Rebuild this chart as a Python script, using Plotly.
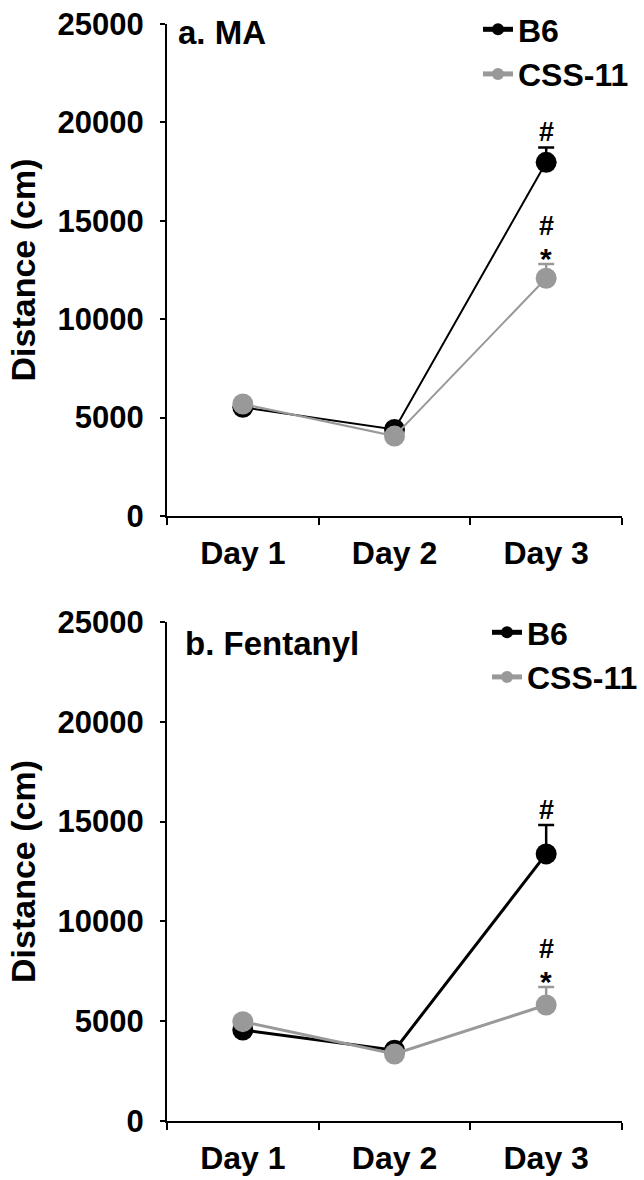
import plotly.graph_objects as go

days = ["Day 1", "Day 2", "Day 3"]
series_names = ["B6", "CSS-11"]

ma_b6 = [5520, 4400, 17970]
ma_b6_err = [200, 150, 760]
ma_css = [5690, 4060, 12080]
ma_css_err = [200, 150, 720]

fen_b6 = [4560, 3550, 13380]
fen_b6_err = [250, 200, 1450]
fen_css = [4975, 3355, 5810]
fen_css_err = [250, 150, 900]

y_ticks = [0, 5000, 10000, 15000, 20000, 25000]
panel_titles = ["a. MA", "b. Fentanyl"]
sig_b6 = ["#", "#"]
sig_css = ["#", "#"]
sig_css_star = ["*", "*"]

BLACK = "#000000"
GRAY = "#999999"
FONT = "Liberation Sans, Arial, sans-serif"

W, H = 644, 1180
x_dom = [167 / W, 622 / W]
top_dom = [1 - 516 / H, 1 - 24 / H]
bot_dom = [1 - 1121 / H, 1 - 622 / H]

fig = go.Figure()

panels = [
    (ma_b6, ma_b6_err, ma_css, ma_css_err, "x", "y", "legend", 2),
    (fen_b6, fen_b6_err, fen_css, fen_css_err, "x2", "y2", "legend2", 3),
]

for (b6, b6e, css, csse, xa, ya, lg, lw) in panels:
    for name, vals, errs, col in [(series_names[0], b6, b6e, BLACK), (series_names[1], css, csse, GRAY)]:
        fig.add_trace(go.Scatter(
            x=days, y=vals, name=name, mode="lines+markers",
            xaxis=xa, yaxis=ya, legend=lg,
            line=dict(color=col, width=lw),
            marker=dict(color=col, size=21),
            error_y=dict(type="data", array=errs, arrayminus=[0] * len(errs),
                         symmetric=False, color=col, thickness=2.5, width=8),
        ))

axis_font = dict(family=FONT, size=31, color="black", weight="bold")
xaxis_font = dict(family=FONT, size=32, color="black", weight="bold")

for xa, ya, dom in [("xaxis", "yaxis", top_dom), ("xaxis2", "yaxis2", bot_dom)]:
    anchor_y = "y" if ya == "yaxis" else "y2"
    anchor_x = "x" if xa == "xaxis" else "x2"
    fig.layout[xa] = dict(
        domain=x_dom, anchor=anchor_y, type="category", categoryorder="array",
        categoryarray=days, range=[-0.5, 2.5],
        showline=True, linecolor="black", linewidth=2,
        ticks="outside", tickson="boundaries", ticklen=7, tickwidth=2, tickcolor="black",
        ticklabelstandoff=8,
        tickfont=xaxis_font, showgrid=False, zeroline=False, fixedrange=True,
    )
    fig.layout[ya] = dict(
        domain=dom, anchor=anchor_x, range=[0, 25000],
        tickvals=y_ticks, ticktext=[str(v) for v in y_ticks],
        showline=True, linecolor="black", linewidth=2,
        ticks="outside", ticklen=5, tickwidth=2, tickcolor="black",
        ticklabelstandoff=10,
        tickfont=axis_font, showgrid=False, zeroline=False,
        title=dict(text="Distance (cm)", font=dict(family=FONT, size=34, color="black", weight="bold"), standoff=12),
    )

leg_font = dict(family=FONT, size=32, color="black", weight="bold")
lab_font = dict(family=FONT, size=33, color="black", weight="bold")
fig.update_layout(
    width=W, height=H,
    margin=dict(l=0, r=0, t=0, b=0, autoexpand=False),
    paper_bgcolor="white", plot_bgcolor="white",
    showlegend=True,
    legend=dict(x=478 / W, y=1 - 2 / H, xanchor="left", yanchor="top",
                font=leg_font, bgcolor="rgba(0,0,0,0)", itemsizing="constant",
                tracegroupgap=0),
    legend2=dict(x=487 / W, y=1 - 605 / H, xanchor="left", yanchor="top",
                 font=leg_font, bgcolor="rgba(0,0,0,0)", itemsizing="constant",
                 tracegroupgap=0),
)

ann = []
ann.append(dict(text=panel_titles[0], xref="paper", yref="paper", x=176 / W, y=1 - 32 / H,
                xanchor="left", yanchor="middle", showarrow=False, font=lab_font))
ann.append(dict(text=panel_titles[1], xref="paper", yref="paper", x=183 / W, y=1 - 643 / H,
                xanchor="left", yanchor="middle", showarrow=False, font=lab_font))

sig_font = dict(family=FONT, size=27, color="black", weight="bold")
star_font = dict(family=FONT, size=30, color="black", weight="bold")
for i, (b6, b6e, css, csse, xa, ya, lg, lw) in enumerate(panels):
    ann.append(dict(text=sig_b6[i], x=days[2], y=b6[2] + b6e[2], xref=xa, yref=ya,
                    yanchor="bottom", yshift=-2, showarrow=False, font=sig_font))
    ann.append(dict(text=sig_css_star[i], x=days[2], y=css[2] + csse[2], xref=xa, yref=ya,
                    yanchor="bottom", yshift=-13, showarrow=False, font=star_font))
    ann.append(dict(text=sig_css[i], x=days[2], y=css[2] + csse[2], xref=xa, yref=ya,
                    yanchor="bottom", yshift=21, showarrow=False, font=sig_font))
fig.update_layout(annotations=ann)

fig.write_html("out.html")
